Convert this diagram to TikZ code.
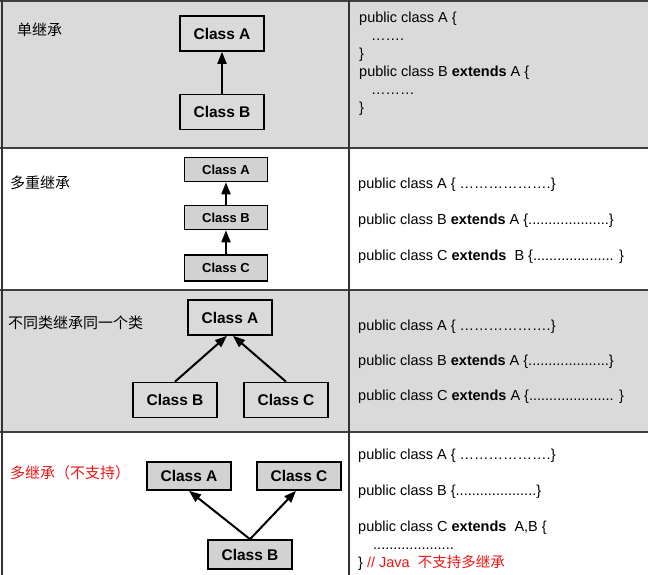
\documentclass[tikz,border=0pt]{standalone}
\usepackage{fontspec}
\setmainfont{Liberation Sans}
\newfontfamily\cjk{Noto Sans CJK SC}
\usetikzlibrary{arrows.meta}
\definecolor{rowgray}{RGB}{218,218,218}
\definecolor{boxgray}{RGB}{210,210,210}
\definecolor{notered}{RGB}{240,20,20}

\begin{document}
\begin{tikzpicture}[x=1pt, y=-1pt, >={Triangle[length=12pt,width=9pt]},
  cls/.style={draw, line width=1.6pt, minimum width=84pt, minimum height=35pt,
    inner sep=0pt, font=\fontsize{15.5}{17}\selectfont\bfseries},
  clsfill/.style={cls, fill=boxgray},
  clssmall/.style={clsfill, minimum width=83pt, minimum height=24pt,
    font=\fontsize{13}{15}\selectfont\bfseries},
  code/.style={anchor=base west, inner sep=0pt, font=\fontsize{14.5}{17}\selectfont},
  tag/.style={anchor=base west, inner sep=0pt, font=\fontsize{15}{17}\selectfont\cjk},
  inh/.style={->, line width=2pt}]
  \useasboundingbox (0,0) rectangle (648,575);
  % grey rows and frame
  \foreach \ya/\yb in {0/148, 290/432}
    \fill[rowgray] (0,\ya) rectangle (648,\yb);
  \foreach \yy in {148, 290, 432}
    \draw[line width=2pt, black!75] (0,\yy) -- (648,\yy);
  \draw[line width=1.5pt, black!75] (0,1) -- (648,1);
  \draw[line width=2pt, black!80] (1.5,0) -- (1.5,575);
  \draw[line width=2pt, black!80] (349,0) -- (349,575);

  % single inheritance
  \node[tag] (t1) at (17,36) {单继承};
  \node[cls] (a1) at (222,33.5) {Class A};
  \node[cls] (b1) at (222,112) {Class B};
  \draw[inh] (b1) -- (a1);
  \node[code] (l11) at (359,23) {public class A \{};
  \node[code] (l12) at (371,41) {…….};
  \node[code] (l13) at (359,59) {\}};
  \node[code] (l14) at (359,77) {public class B \textbf{extends} A \{};
  \node[code] (l15) at (371,95) {………};
  \node[code] (l16) at (359,113) {\}};

  % multilevel inheritance
  \node[tag] (t2) at (10,189) {多重继承};
  \node[clssmall] (a2) at (226,169.5) {Class A};
  \node[clssmall] (b2) at (226,217.5) {Class B};
  \node[clssmall, minimum height=26pt] (c2) at (226,268) {Class C};
  \draw[inh] (b2) -- (a2);
  \draw[inh] (c2) -- (b2);
  \node[code] (l21) at (358,188) {public class A \{ ……………….\}};
  \node[code] (l22) at (358,224) {public class B \textbf{extends} A \{....................\}};
  \node[code] (l23) at (358,260) {public class C \textbf{extends}\ \ B \{.................... \}};

  % hierarchical inheritance
  \node[tag] (t3) at (8,328) {不同类继承同一个类};
  \node[cls] (a3) at (230,317.5) {Class A};
  \node[cls] (b3) at (175,400) {Class B};
  \node[cls] (c3) at (286,400) {Class C};
  \draw[inh] (b3.north) -- ([xshift=-3pt]a3.south);
  \draw[inh] (c3.north) -- ([xshift=3pt]a3.south);
  \node[code] (l31) at (358,330) {public class A \{ ……………….\}};
  \node[code] (l32) at (358,365) {public class B \textbf{extends} A \{....................\}};
  \node[code] (l33) at (358,400) {public class C \textbf{extends} A \{..................... \}};

  % multiple inheritance, not in Java
  \node[tag, text=notered] (t4) at (10,478) {多继承（不支持）};
  \node[clsfill, minimum height=28pt] (a4) at (189,476) {Class A};
  \node[clsfill, minimum height=28pt] (c4) at (299,476) {Class C};
  \node[clsfill, minimum height=29pt] (b4) at (250,554.5) {Class B};
  \draw[inh] (b4.north) -- (a4.south);
  \draw[inh] (b4.north) -- ([xshift=-3pt]c4.south);
  \node[code] (l41) at (358,459) {public class A \{ ……………….\}};
  \node[code] (l42) at (358,495) {public class B \{....................\}};
  \node[code] (l43) at (358,531) {public class C \textbf{extends}\ \ A,B \{};
  \node[code] (l44) at (373,549) {....................};
  \node[code] (l45) at (358,567) {\} \textcolor{notered}{// Java\ \ {\cjk 不支持多继承}}};
\end{tikzpicture}
\end{document}
